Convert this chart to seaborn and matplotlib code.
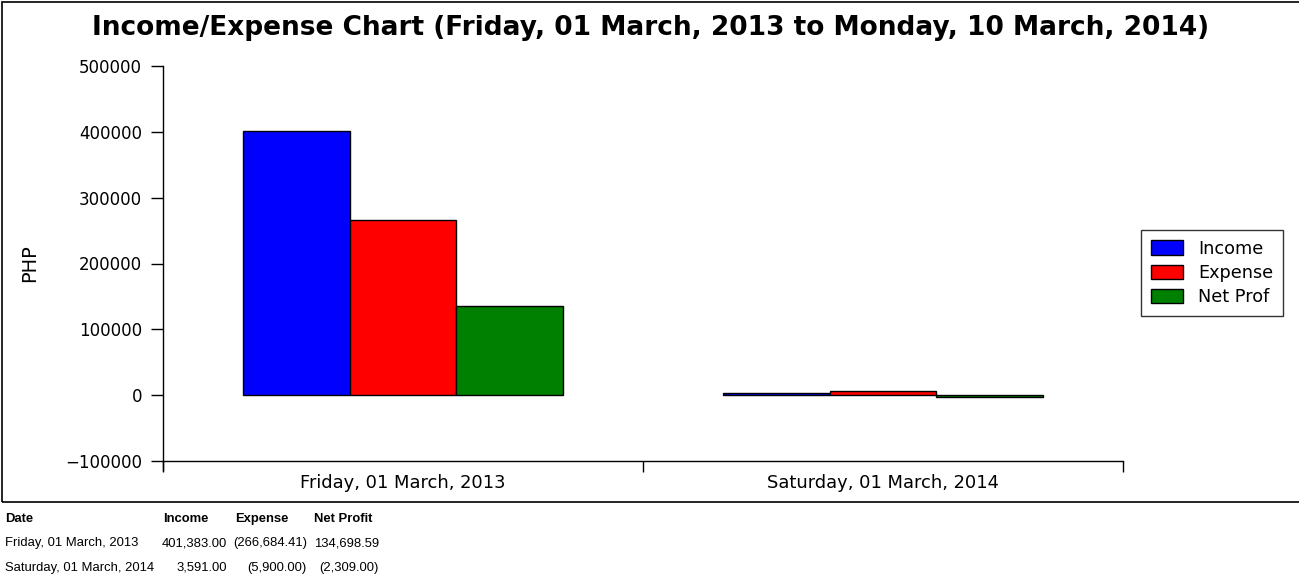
import pandas as pd
import seaborn as sns
import matplotlib.pyplot as plt
from matplotlib.patches import Rectangle

# Chart data
dates = ["Friday, 01 March, 2013", "Saturday, 01 March, 2014"]
income = [401383.00, 3591.00]
expense = [266684.41, 5900.00]
net_profit = [134698.59, -2309.00]
series_names = ["Income", "Expense", "Net Profit"]
legend_labels = ["Income", "Expense", "Net Prof"]
colors = ["#0000ff", "#ff0000", "#008000"]
y_ticks = [-100000, 0, 100000, 200000, 300000, 400000, 500000]

df = pd.DataFrame({
    "date": dates * 3,
    "series": [series_names[0]] * 2 + [series_names[1]] * 2 + [series_names[2]] * 2,
    "value": income + expense + net_profit,
})

sns.set_style("ticks")
plt.rcParams['font.family'] = ['DejaVu Sans']
for k in ["text.color", "axes.labelcolor", "xtick.color", "ytick.color", "axes.edgecolor"]:
    plt.rcParams[k] = "black"

W, H = 1299, 578
fig = plt.figure(figsize=(W / 100, H / 100), dpi=100)

# frame around chart area
fig.patches.append(Rectangle((1.5 / W, (H - 501.5) / H), 1.0, 499.5 / H,
                             transform=fig.transFigure, fill=False,
                             edgecolor="black", linewidth=1.2))

ax = fig.add_axes([163 / W, (H - 461) / H, 960 / W, 395 / H])
sns.barplot(data=df, x="date", y="value", hue="series", palette=colors,
            width=2 / 3, edgecolor="black", linewidth=1, saturation=1,
            ax=ax, legend=False)

ax.set_xlim(-0.5, 1.5)
ax.set_ylim(-100000, 500000)
ax.set_yticks(y_ticks)
ax.set_yticklabels([str(t).replace("-", "\u2212") for t in y_ticks], fontsize=12)
ax.set_xticks([0, 1])
ax.set_xticklabels(dates, fontsize=12.9)
ax.set_xticks([-0.5, 0.5, 1.5], minor=True)
ax.tick_params(axis="x", which="major", length=0, pad=9)
ax.tick_params(axis="x", which="minor", length=8, width=1, direction="out", bottom=True)
ax.tick_params(axis="y", which="major", length=9, width=1, direction="out", pad=6, left=True)
ax.set_xlabel("")
ax.set_ylabel("PHP", fontsize=14, labelpad=19)
for side in ["top", "right"]:
    ax.spines[side].set_visible(False)
for side in ["left", "bottom"]:
    ax.spines[side].set_linewidth(1)
ax.spines["left"].set_bounds(-113000, 500000)

fig.text(651 / W, 1 - 28 / H, "Income/Expense Chart (Friday, 01 March, 2013 to Monday, 10 March, 2014)",
         ha="center", va="center", fontsize=19, fontweight="bold")

handles = [Rectangle((0, 0), 1, 1, facecolor=c, edgecolor="black", linewidth=1) for c in colors]
leg = fig.legend(handles, legend_labels, loc="center", bbox_to_anchor=(1212 / W, 1 - 273 / H),
                 fontsize=12.7, frameon=True, fancybox=False, edgecolor="black",
                 handlelength=1.8, handleheight=0.9, labelspacing=0.35, borderpad=0.55,
                 handletextpad=0.85, borderaxespad=0)
leg.get_frame().set_linewidth(1)

# summary table below the chart
def fmt(v):
    return f"({abs(v):,.2f})" if v < 0 else f"{v:,.2f}"

tfont = dict(family="Liberation Sans", fontsize=9.4, va="center")
fig.text(5 / W, 1 - 519 / H, "Date", fontweight="bold", ha="left", **tfont)
fig.text(163 / W, 1 - 519 / H, "Income", fontweight="bold", ha="left", **tfont)
fig.text(235 / W, 1 - 519 / H, "Expense", fontweight="bold", ha="left", **tfont)
fig.text(314 / W, 1 - 519 / H, "Net Profit", fontweight="bold", ha="left", **tfont)
for i, d in enumerate(dates):
    yy = 1 - (543 + 25 * i) / H
    fig.text(5 / W, yy, d, ha="left", **tfont)
    fig.text(227 / W, yy, fmt(income[i]), ha="right", **tfont)
    fig.text(307 / W, yy, fmt(-expense[i]), ha="right", **tfont)
    fig.text(379 / W, yy, fmt(net_profit[i]), ha="right", **tfont)

fig.savefig("out.png", dpi=100)
